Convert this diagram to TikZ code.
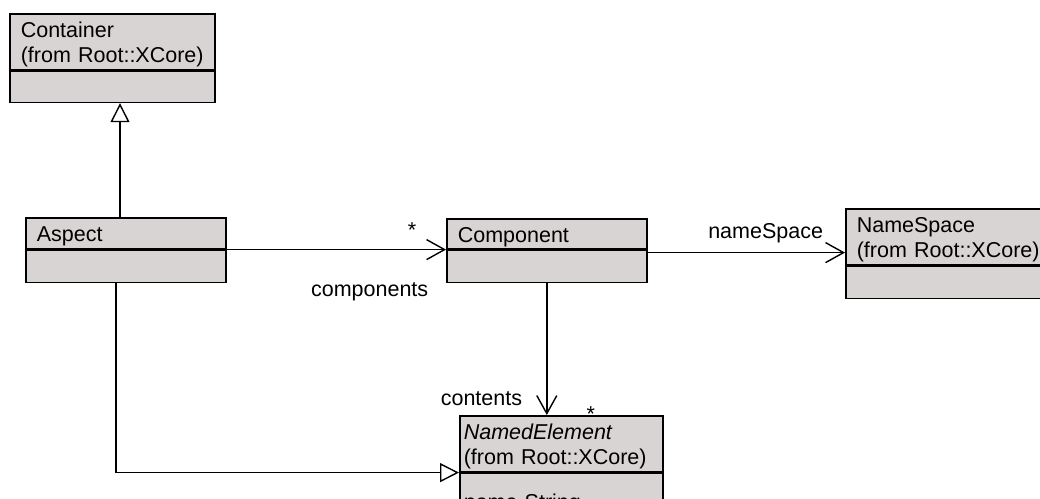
\documentclass[tikz,border=0pt]{standalone}
\usepackage{fontspec}
\setmainfont{Liberation Sans}
\usepackage{xcolor}
\definecolor{umlfill}{RGB}{217,212,212}
\usepackage{tikz}
\usetikzlibrary{arrows.meta,positioning,calc}
\newcommand{\umlfont}{\fontsize{21.5pt}{25.5pt}\selectfont}
\newcommand{\tstrut}{\rule{0pt}{21pt}}
\tikzset{
  hd/.style={draw, fill=umlfill, line width=1.6pt, align=left, inner xsep=11pt, inner ysep=0pt, anchor=north west, font=\umlfont},
  bd/.style={draw, fill=umlfill, line width=1.6pt, align=left, inner xsep=11pt, inner ysep=0pt, anchor=north west, font=\umlfont},
  gen/.style={-{Triangle[open, length=19pt, width=19pt, fill=white]}, line width=1.4pt},
  assoc/.style={-{Straight Barb[length=18pt, width=20pt]}, line width=1.4pt},
  lbl/.style={font=\umlfont, inner sep=0pt}
}
\begin{document}
\begin{tikzpicture}[x=1pt, y=-1pt]
  \useasboundingbox (0,0) rectangle (1040,498);
  \fill[white] (0,0) rectangle (1040,498);
  \clip (0,0) rectangle (1040,498);
  \node[hd, text width=183pt, minimum height=56pt] (cont-h) at (9,13) {\tstrut Container\\(from Root::XCore)};
  \node[bd, minimum width=205pt, minimum height=31pt] (cont-b) at (cont-h.south west) {};
  \node[hd, text width=178pt, minimum height=31pt] (asp-h) at (25,217) {\tstrut Aspect};
  \node[bd, minimum width=200pt, minimum height=32pt] (asp-b) at (asp-h.south west) {};
  \node[hd, text width=178pt, minimum height=30pt] (comp-h) at (446,218) {\tstrut Component};
  \node[bd, minimum width=200pt, minimum height=32pt] (comp-b) at (comp-h.south west) {};
  \node[hd, text width=183pt, minimum height=56pt] (ns-h) at (845,208) {\tstrut NameSpace\\(from Root::XCore)};
  \node[bd, minimum width=205pt, minimum height=32pt] (ns-b) at (ns-h.south west) {};
  \node[hd, inner xsep=4pt, text width=195pt, minimum height=56pt] (nel-h) at (459,415) {\tstrut\textit{NamedElement}\\(from Root::XCore)};
  \node[bd, inner xsep=4pt, text width=195pt, minimum height=61pt] (nel-b) at (nel-h.south west) {name String};
  \coordinate (g1) at ($(asp-h.north west)+(95,0)$);
  \coordinate (g2) at ($(asp-b.south west)+(91,0)$);
  \coordinate (c1) at ($(comp-b.north east)+(0,3)$);
  \draw[gen] (g1) -- (g1 |- cont-b.south);
  \draw[gen] (g2) |- (nel-h.south west);
  \draw[assoc] (asp-h.south east) -- node[lbl, at end, anchor=base, xshift=-34pt, yshift=12pt]{*} node[lbl, pos=0.652, anchor=base, yshift=-47pt]{components} (comp-h.south west);
  \draw[assoc] (c1) -- node[lbl, pos=0.598, anchor=base, yshift=14pt]{nameSpace} (c1 -| ns-h.west);
  \draw[assoc] (comp-b.south) -- node[lbl, at end, anchor=base east, xshift=-24pt, yshift=10pt]{contents} node[lbl, at end, anchor=base, xshift=44pt, yshift=-6pt]{*} (comp-b.south |- nel-h.north);
\end{tikzpicture}
\end{document}
